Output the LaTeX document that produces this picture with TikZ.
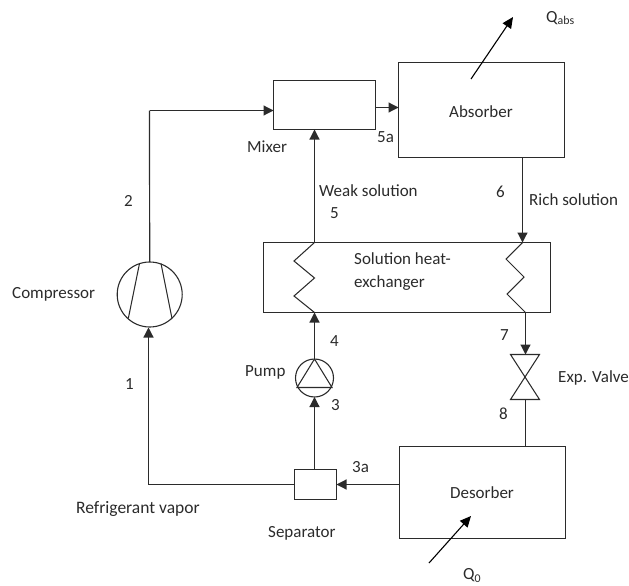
\documentclass[tikz,border=0pt]{standalone}
\usepackage{fontspec}
\setmainfont{Carlito}
\usetikzlibrary{arrows.meta,calc}
\definecolor{ink}{HTML}{2B2B2B}
\tikzset{
  box/.style={draw=ink,line width=1.4pt,inner sep=0pt,outer sep=0pt,minimum width=#1},
  circ/.style={draw=ink,line width=1.1pt,circle,inner sep=0pt,outer sep=0pt,minimum size=#1},
  pipe/.style={draw=ink,line width=1.2pt},
  flow/.style={pipe,-{Triangle[length=10pt,width=10pt]}},
  heat/.style={draw=black,line width=1.1pt,-{Triangle[length=11pt,width=10pt]}},
  thin part/.style={draw=ink,line width=1.05pt,line join=miter},
  lab/.style={inner sep=0pt,text=ink,font=\fontsize{17}{19}\selectfont}
}
\begin{document}
\begin{tikzpicture}[x=1pt,y=-1pt]
\useasboundingbox (0,0) rectangle (629,586);
% equipment
\node[box=102pt,minimum height=49pt] (mix) at (324.5,105) {};
\node[box=166pt,minimum height=95pt] (abs) at (481.5,110) {};
\node[box=287pt,minimum height=70pt] (shx) at (407,277.5) {};
\node[box=166pt,minimum height=92pt] (des) at (482.5,492.5) {};
\node[box=42pt,minimum height=30pt] (sep) at (315.5,484.5) {};
\node[circ=65pt] (comp) at (149.7,294.5) {};
\node[circ=38pt] (pump) at (314.5,378) {};
% compressor vanes
\coordinate (v1) at (139.5,263.5); \coordinate (v2) at (128.3,318.5);
\coordinate (v3) at (161,263.5); \coordinate (v4) at (172,318.5);
\draw[thin part] (v1) -- (v2) (v3) -- (v4);
% pump triangle
\coordinate (pa) at (314.5,359); \coordinate (pl) at (297,387.5); \coordinate (pr) at (332,387.5);
\draw[thin part] (pa) -- (pl) -- (pr) -- cycle;
% heat exchanger coils
\coordinate (lt) at (314.5,242.5); \coordinate (lb) at (314.5,312.5);
\coordinate (rt) at (522.5,242.5); \coordinate (rb) at (525.5,312.5);
\draw[thin part] (lt) -- (294,261) -- (314.5,278) -- (294,296) -- (lb);
\draw[thin part] (rt) -- (506,259) -- (524,277) -- (507,294) -- (rb);
% expansion valve
\coordinate (vt) at (525.5,354.5); \coordinate (vb) at (525.5,399.5);
\draw[thin part] (510.5,354.5) -- (539.5,354.5) -- (510.5,399.5) -- (539.5,399.5) -- cycle;
% flows
\coordinate (c2) at (149.5,110.5);
\coordinate (c1) at (148.5,484.5);
\draw[pipe] (comp.north) -- (c2);
\draw[flow] (c2) -- (c2 -| mix.west);
\draw[pipe] (sep.west) -- (c1);
\draw[flow] (c1) -- (148.5,327.5);
\draw[flow] (mix.east |- 0,107.5) -- (abs.west |- 0,107.5);
\draw[flow] (lt) -- (mix.south -| lt);
\draw[flow] (pump.north) -- (lb);
\draw[flow] (sep.north -| pump) -- (pump.south);
\draw[flow] (des.west |- sep) -- (sep.east);
\draw[flow] (abs.south -| rt) -- (rt);
\draw[flow] (rb) -- (vt);
\draw[pipe] (vb) -- (des.north -| vb);
% heat arrows
\coordinate (qa0) at (471,79); \coordinate (qa1) at (513,17);
\coordinate (qd0) at (429,563); \coordinate (qd1) at (471,516);
\draw[heat] (qa0) -- (qa1);
\draw[heat] (qd0) -- (qd1);
% labels
\node[lab] (tabs) at (481,112) {Absorber};
\node[lab] (tdes) at (482,493) {Desorber};
\node[lab,align=left,anchor=north west] (tshx) at (354,252) {Solution heat-\\[4pt]exchanger};
\node[lab,anchor=west] (tmix) at (247,147) {Mixer};
\node[lab,anchor=west] (t5a) at (377,137) {5a};
\node[lab,anchor=west] (tws) at (319,191) {Weak solution};
\node[lab,anchor=west] (t5) at (330,213) {5};
\node[lab,anchor=west] (t6) at (496,192) {6};
\node[lab,anchor=west] (trs) at (529,200) {Rich solution};
\node[lab,anchor=west] (t2) at (124,201) {2};
\node[lab,anchor=west] (tcomp) at (12,294) {Compressor};
\node[lab,anchor=west] (t1) at (125,384) {1};
\node[lab,anchor=west] (tpump) at (245,372) {Pump};
\node[lab,anchor=west] (t4) at (330,341) {4};
\node[lab,anchor=west] (t3) at (331,405) {3};
\node[lab,anchor=west] (t3a) at (352,467) {3a};
\node[lab,anchor=west] (t7) at (500,335) {7};
\node[lab,anchor=west] (t8) at (499,414) {8};
\node[lab,anchor=west] (tev) at (558,378) {Exp. Valve};
\node[lab,anchor=west,font=\fontsize{17.5}{19}\selectfont] (trv) at (76,509) {Refrigerant vapor};
\node[lab,anchor=west] (tsep) at (268,533) {Separator};
\node[lab,anchor=west] (tqa) at (546,18) {Q\textsubscript{abs}};
\node[lab,anchor=west] (tq0) at (463,575.5) {Q\textsubscript{0}};
\end{tikzpicture}
\end{document}
